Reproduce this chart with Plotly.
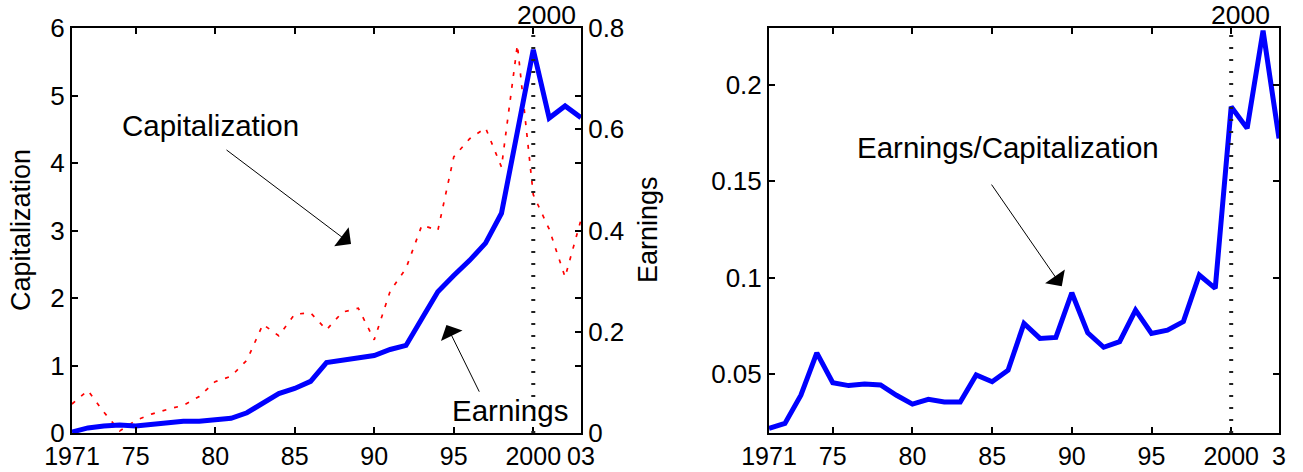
import plotly.graph_objects as go

years = list(range(1971, 2004))
capitalization = [0.43, 0.63, 0.31, 0.03, 0.185, 0.28, 0.35, 0.41, 0.54, 0.76,
                  0.84, 1.08, 1.61, 1.44, 1.76, 1.78, 1.53, 1.79, 1.85, 1.38,
                  2.10, 2.44, 3.08, 3.00, 4.09, 4.36, 4.52, 3.94, 5.75, 3.53,
                  3.02, 2.31, 3.16]
earnings = [0.002, 0.010, 0.014, 0.016, 0.014, 0.017, 0.019, 0.023, 0.023, 0.025,
            0.029, 0.040, 0.058, 0.078, 0.088, 0.102, 0.139, 0.143, 0.149, 0.153,
            0.165, 0.173, 0.226, 0.279, 0.311, 0.341, 0.375, 0.434, 0.595, 0.757,
            0.622, 0.646, 0.623]
ratio = [0.0218, 0.0244, 0.039, 0.061, 0.0455, 0.044, 0.0448, 0.0443, 0.039, 0.0344,
         0.0369, 0.0355, 0.0355, 0.0495, 0.046, 0.052, 0.0763, 0.0685, 0.069, 0.0922,
         0.0714, 0.0639, 0.0668, 0.0832, 0.0711, 0.0728, 0.0772, 0.1014, 0.0945, 0.1887,
         0.1775, 0.2282, 0.1723]

xtick_vals = [1971, 1975, 1980, 1985, 1990, 1995, 2000, 2003]
xtick_text_left = ["1971", "75", "80", "85", "90", "95", "2000", "03"]
xtick_text_right = ["1971", "75", "80", "85", "90", "95", "2000", "3"]
cap_ticks = [0, 1, 2, 3, 4, 5, 6]
earn_ticks = [0, 0.2, 0.4, 0.6, 0.8]
earn_tick_text = ["0", "0.2", "0.4", "0.6", "0.8"]
ratio_ticks = [0.05, 0.1, 0.15, 0.2]
ratio_tick_text = ["0.05", "0.1", "0.15", "0.2"]

W, H = 1303, 472
FONT = "Liberation Sans, Arial, sans-serif"
YTICKFONT = dict(family=FONT, size=26, color="black")
XTICKFONT = dict(family=FONT, size=25, color="black")

# panel geometry (pixels)
L1, R1 = 72, 581
L2, R2 = 769, 1279
TOP, BOT = 28, 433
ydom = [(H - BOT) / H, (H - TOP) / H]

fig = go.Figure()
fig.add_trace(go.Scatter(x=years, y=capitalization, xaxis="x", yaxis="y", mode="lines",
                         line=dict(color="#ff0000", width=1.7, dash="4px,8px"),
                         showlegend=False))
fig.add_trace(go.Scatter(x=years, y=earnings, xaxis="x", yaxis="y2", mode="lines",
                         line=dict(color="#0000ff", width=5),
                         showlegend=False))
fig.add_trace(go.Scatter(x=years, y=ratio, xaxis="x2", yaxis="y3", mode="lines",
                         line=dict(color="#0000ff", width=5),
                         showlegend=False))

axis_common = dict(showline=True, linecolor="black", linewidth=2, ticks="inside",
                   ticklen=6, tickwidth=1.5, tickcolor="black", showgrid=False,
                   zeroline=False, automargin=False)

fig.update_layout(
    width=W, height=H, margin=dict(l=0, r=0, t=0, b=0, autoexpand=False),
    paper_bgcolor="white", plot_bgcolor="white",
    xaxis=dict(domain=[L1 / W, R1 / W], range=[1971, 2003], anchor="y",
               tickvals=xtick_vals, ticktext=xtick_text_left, mirror="ticks",
               tickfont=XTICKFONT, **axis_common),
    yaxis=dict(domain=ydom, range=[0, 6], anchor="x", tickvals=cap_ticks,
               mirror="ticks", tickfont=YTICKFONT, **axis_common),
    yaxis2=dict(range=[0, 0.8], overlaying="y", side="right", anchor="x",
                tickvals=earn_ticks, ticktext=earn_tick_text, tickfont=YTICKFONT,
                **axis_common),
    xaxis2=dict(domain=[L2 / W, R2 / W], range=[1971, 2003], anchor="y3",
                tickvals=xtick_vals, ticktext=xtick_text_right, mirror="ticks",
                tickfont=XTICKFONT, **axis_common),
    yaxis3=dict(domain=ydom, range=[0.0194, 0.2296], anchor="x2",
                tickvals=ratio_ticks, ticktext=ratio_tick_text, mirror="ticks",
                tickfont=YTICKFONT, **axis_common),
)

# dotted vertical lines at 2000
for xr, yr in (("x", "y domain"), ("x2", "y3 domain")):
    fig.add_shape(type="line", xref=xr, yref=yr, x0=2000, x1=2000, y0=0, y1=1,
                  line=dict(color="#222222", width=4, dash="2px,10px"))

ann_font = dict(family=FONT, size=29.5, color="black")
# "2000" labels above the panels
fig.add_annotation(text="2000", xref="x", yref="paper", x=2000, y=ydom[1],
                   xshift=13, yshift=-4, yanchor="bottom", showarrow=False,
                   font=dict(family=FONT, size=26.5, color="black"))
fig.add_annotation(text="2000", xref="x2", yref="paper", x=2000, y=ydom[1],
                   xshift=9, yshift=-4, yanchor="bottom", showarrow=False,
                   font=dict(family=FONT, size=26.5, color="black"))

# axis titles
fig.add_annotation(text="Capitalization", xref="paper", yref="paper",
                   x=21 / W, y=(H - 230) / H, textangle=-90, showarrow=False,
                   xanchor="center", yanchor="middle",
                   font=dict(family=FONT, size=27, color="black"))
fig.add_annotation(text="Earnings", xref="paper", yref="paper",
                   x=647.5 / W, y=(H - 229.5) / H, textangle=-90, showarrow=False,
                   xanchor="center", yanchor="middle",
                   font=dict(family=FONT, size=27, color="black"))

# text labels
fig.add_annotation(text="Capitalization", xref="x", yref="y", x=1979.68, y=4.56,
                   showarrow=False, xanchor="center", yanchor="middle", font=ann_font)
fig.add_annotation(text="Earnings", xref="x", yref="y", x=1998.54, y=0.33,
                   showarrow=False, xanchor="center", yanchor="middle", font=ann_font)
fig.add_annotation(text="Earnings/Capitalization", xref="x2", yref="y3",
                   x=1986.01, y=0.1678, showarrow=False, xanchor="center",
                   yanchor="middle", font=ann_font)

# arrows
arrow_style = dict(text="", showarrow=True, arrowhead=1, arrowsize=4,
                   arrowwidth=1, arrowcolor="black")
fig.add_annotation(xref="x", yref="y", axref="x", ayref="y",
                   x=1988.54, y=2.80, ax=1980.62, ay=4.21, **arrow_style)
fig.add_annotation(xref="x", yref="y", axref="x", ayref="y",
                   x=1994.54, y=1.60, ax=1996.65, ay=0.59, **arrow_style)
fig.add_annotation(xref="x2", yref="y3", axref="x2", ayref="y3",
                   x=1989.37, y=0.0956, ax=1984.9, ay=0.1491, **arrow_style)

fig.write_html("out.html", config={"displayModeBar": False},
               post_script="document.body.style.margin='0';")
